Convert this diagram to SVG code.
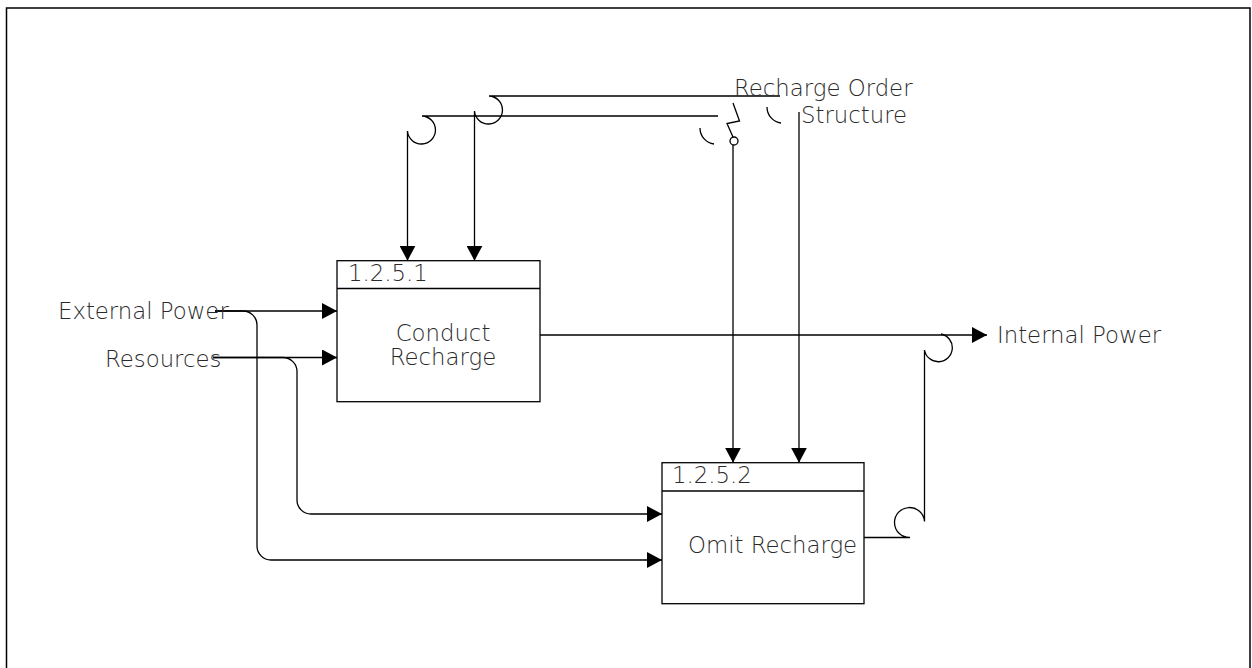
<svg xmlns="http://www.w3.org/2000/svg" width="1252" height="668" viewBox="0 0 1252 668">
<defs>
<marker id="arr" viewBox="0 0 15 16" refX="15" refY="8" markerWidth="15" markerHeight="16" markerUnits="userSpaceOnUse" orient="auto">
<path d="M0,0 L15,8 L0,16 z" fill="#000"/>
</marker>
<style>
.t{font-family:"DejaVu Sans","Liberation Sans",sans-serif;font-weight:200;font-size:22.8px;fill:#2a2a2a}
.c{fill:none;stroke:#000;stroke-width:1.3}
.box{fill:#fff;stroke:#000;stroke-width:1.3}
</style>
</defs>
<rect x="6.5" y="8" width="1243.5" height="700" fill="#fff" stroke="#000" stroke-width="1.5"/>
<g id="connectors">
<path class="c" d="M215,311 H337" marker-end="url(#arr)"/>
<path class="c" d="M215,311 H243 A14,14 0 0 1 257,325 V546 A14,14 0 0 0 271,560 H662" marker-end="url(#arr)"/>
<path class="c" d="M213,357.5 H337" marker-end="url(#arr)"/>
<path class="c" d="M213,357.5 H283 A14,14 0 0 1 297,371.5 V500 A14,14 0 0 0 311,514 H662" marker-end="url(#arr)"/>
<path class="c" d="M540,335 H987" marker-end="url(#arr)"/>
<path class="c" d="M864,537.5 H910 A15,15 0 1 1 924.5,521.5 V350 A14,14 0 1 0 941,334"/>
<path class="c" d="M718,116 H422 A14,14 0 1 1 407.5,131 V260.7" marker-end="url(#arr)"/>
<path class="c" d="M780,96 H489 A14,14 0 1 1 474.5,111 V260.7" marker-end="url(#arr)"/>
<path class="c" d="M733,103 L739.5,121 L727,123.5 L733,137"/>
<circle class="c" cx="734" cy="141" r="4"/>
<path class="c" d="M733,145 V462.7" marker-end="url(#arr)"/>
<path class="c" d="M700,128 A16,16 0 0 0 714,144"/>
<path class="c" d="M767,107 A16,16 0 0 0 781,123"/>
<path class="c" d="M799,112 V462.7" marker-end="url(#arr)"/>
</g>
<g id="node-1251">
<rect class="box" x="337" y="260.7" width="203" height="141"/>
<line class="c" x1="337" y1="288.5" x2="540" y2="288.5"/>
<text class="t" x="348" y="281">1.2.5.1</text>
<text class="t" x="443" y="340.5" text-anchor="middle">Conduct</text>
<text class="t" x="443" y="365" text-anchor="middle">Recharge</text>
</g>
<g id="node-1252">
<rect class="box" x="662" y="462.7" width="202" height="141"/>
<line class="c" x1="662" y1="491" x2="864" y2="491"/>
<text class="t" x="672" y="482.7">1.2.5.2</text>
<text class="t" x="688" y="553.3">Omit Recharge</text>
</g>
<g id="labels">
<text class="t" x="58" y="319.3">External Power</text>
<text class="t" x="105" y="367">Resources</text>
<text class="t" x="997" y="343.3">Internal Power</text>
<text class="t" x="734" y="96">Recharge Order</text>
<text class="t" x="801" y="123">Structure</text>
</g>
</svg>
